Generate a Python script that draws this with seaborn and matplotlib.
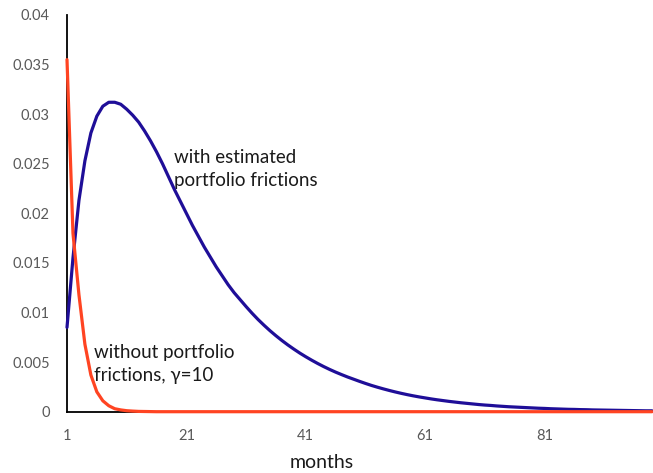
import matplotlib
matplotlib.use("Agg")
import matplotlib.pyplot as plt
import seaborn as sns
import pandas as pd

months = list(range(1, 100))

with_frictions = [
    0.0085, 0.0155, 0.0213, 0.0253, 0.0281, 0.0298, 0.0308, 0.0312, 0.0312, 0.0310,
    0.0305, 0.0299, 0.0292, 0.0283, 0.0273, 0.0262, 0.0250, 0.0237, 0.0224, 0.0212,
    0.0200, 0.0188, 0.0177, 0.0166, 0.0156, 0.0146, 0.0137, 0.0128, 0.0120, 0.0113,
    0.0106, 0.00993, 0.00930, 0.00872, 0.00817, 0.00766, 0.00718, 0.00673, 0.00631, 0.00591,
    0.00554, 0.00519, 0.00486, 0.00455, 0.00426, 0.00399, 0.00374, 0.00350, 0.00328, 0.00306,
    0.00285, 0.00265, 0.00247, 0.00230, 0.00214, 0.00199, 0.00185, 0.00172, 0.00160, 0.00149,
    0.00139, 0.00129, 0.00120, 0.00112, 0.00104, 0.00097, 0.00090, 0.00084, 0.00078, 0.00072,
    0.00067, 0.00063, 0.00058, 0.00054, 0.00050, 0.00047, 0.00044, 0.00041, 0.00038, 0.00035,
    0.00033, 0.00030, 0.00028, 0.00026, 0.00024, 0.00023, 0.00021, 0.00020, 0.00018, 0.00017,
    0.00016, 0.00015, 0.00014, 0.00013, 0.00012, 0.00011, 0.00010, 0.00009, 0.00009,
]

without_frictions = [
    0.0355, 0.0180, 0.0118, 0.0068, 0.0037, 0.0020, 0.0011, 0.0006, 0.0003, 0.00018,
    0.00010, 0.00006, 0.00003, 0.00002, 0.00001,
] + [0.0] * 84

series_names = ["with estimated portfolio frictions", "without portfolio frictions"]
series_colors = ["#1F0E98", "#FF4422"]

y_ticks = [0, 0.005, 0.01, 0.015, 0.02, 0.025, 0.03, 0.035, 0.04]
y_tick_labels = ["0", "0.005", "0.01", "0.015", "0.02", "0.025", "0.03", "0.035", "0.04"]
x_ticks = [1, 21, 41, 61, 81]
x_tick_labels = ["1", "21", "41", "61", "81"]

df = pd.DataFrame({
    "months": months * 2,
    "value": with_frictions + without_frictions,
    "series": [series_names[0]] * len(months) + [series_names[1]] * len(months),
})

sns.set_theme(style="white")
plt.rcParams["font.family"] = ["Lato", "DejaVu Sans"]

fig = plt.figure(figsize=(6.53, 4.73), dpi=100)
ax = fig.add_axes([0.1026, 0.1296, 0.8959, 0.8387])

sns.lineplot(data=df, x="months", y="value", hue="series", hue_order=series_names,
             palette=series_colors, linewidth=2.3, ax=ax, legend=False)
for ln in ax.get_lines():
    ln.set_clip_on(False)
    ln.set_zorder(5)
    ln.set_solid_joinstyle("round")

ax.set_xlim(1, 99)
ax.set_ylim(0, 0.04)
ax.set_xticks(x_ticks)
ax.set_xticklabels(x_tick_labels)
ax.set_yticks(y_ticks)
ax.set_yticklabels(y_tick_labels)

for s in ["top", "right"]:
    ax.spines[s].set_visible(False)
for s in ["left", "bottom"]:
    ax.spines[s].set_color("black")
    ax.spines[s].set_linewidth(1.3)

ax.tick_params(axis="both", which="major", direction="out", length=4.3, width=1.3,
               color="black", labelcolor="#595959", labelsize=10.5)
ax.tick_params(axis="x", pad=8)
ax.tick_params(axis="y", pad=8)

ax.set_xlabel("months", fontsize=14, color="#1a1a1a", va="center")
ax.xaxis.set_label_coords(0.436, -0.129)
ax.set_ylabel("")

ax.text(19.0, 0.0245, "with estimated\nportfolio frictions", fontsize=13.5,
        color="#1a1a1a", ha="left", va="center", linespacing=1.45)
ax.text(5.5, 0.0048, "without portfolio\nfrictions, γ=10", fontsize=13.5,
        color="#1a1a1a", ha="left", va="center", linespacing=1.45)

fig.savefig("out.png", dpi=100)
